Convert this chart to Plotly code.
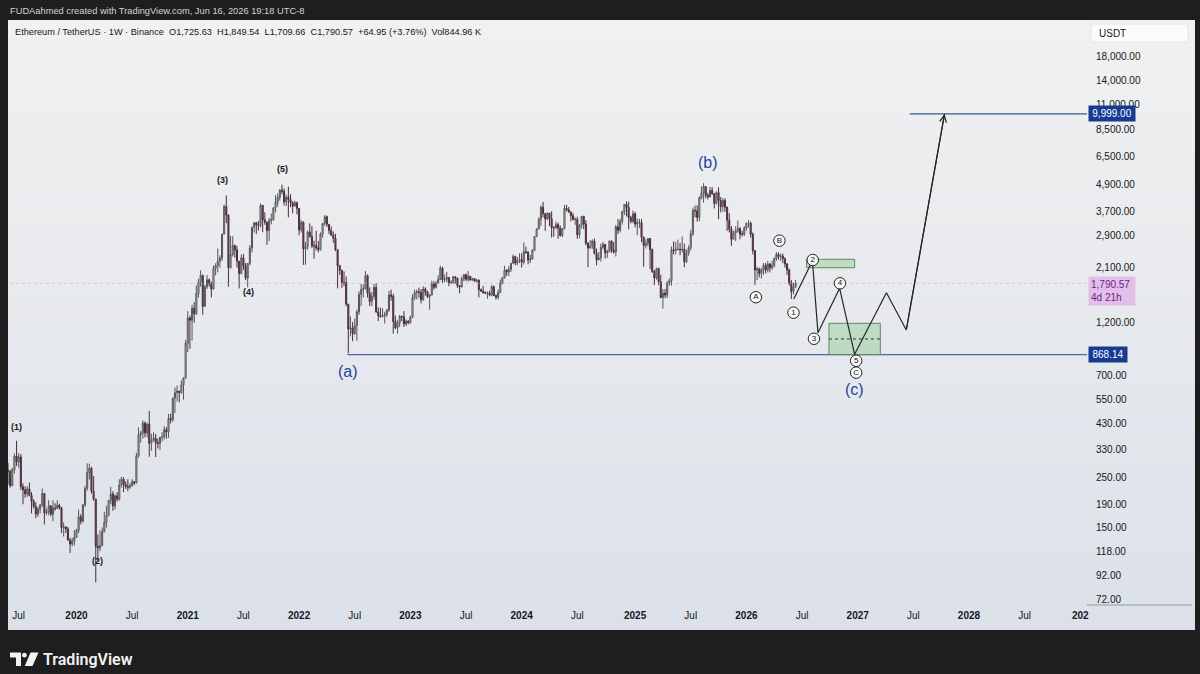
import math
import zlib
import struct
import base64
import pandas as pd
import plotly.graph_objects as go

# ---------------- weekly ETH/USDT candles (week starts Monday) ----------------
first_open = 188
closes = [
    # 2019 (from May 13)
    262,268,265,230,270,310,292,307,227,220,211,222,208,196,186,172,181,189,212,174,176,187,172,183,182,188,184,150,151,148,132,127,131,136,
    # 2020
    146,167,160,189,223,262,274,217,200,124,122,125,144,158,170,197,211,187,207,200,231,245,232,228,226,229,239,236,310,385,392,433,392,428,353,366,371,355,352,375,378,405,396,454,448,558,590,600,590,638,685,975,
    # 2021
    1260,1230,1390,1315,1615,1810,1935,1417,1730,1855,1780,1690,2080,2140,2240,2315,2950,3910,3580,2100,2400,2630,2510,2240,1980,2320,2140,1890,2190,2560,3160,3310,3240,3225,3950,3410,3330,3060,3390,3420,3850,4080,4290,4610,4560,4090,4290,4190,4060,3920,4060,3830,
    # 2022
    3080,3330,2540,2600,3010,2880,2620,2620,2570,2520,2950,3290,3520,3260,3060,2920,2830,2520,2140,2040,1810,1805,1450,1125,1140,1075,1165,1340,1600,1680,1700,1935,1620,1490,1570,1720,1340,1290,1275,1290,1305,1365,1590,1570,1215,1140,1200,1280,1275,1185,1220,1200,
    # 2023
    1265,1550,1630,1645,1630,1515,1690,1640,1565,1590,1780,1720,1795,1860,2090,1860,1870,1900,1800,1805,1910,1890,1750,1725,1875,1955,1865,1925,1850,1880,1830,1850,1680,1655,1630,1620,1625,1590,1730,1580,1555,1630,1790,1895,2045,2010,2065,2195,2350,2200,2265,2280,
    # 2024
    2220,2470,2455,2270,2290,2500,2880,3110,3430,3880,3640,3450,3650,3450,3150,3150,3250,3140,2910,3120,3830,3780,3690,3560,3420,3430,2930,3240,3530,3270,2690,2560,2610,2750,2430,2270,2320,2580,2660,2440,2470,2750,2510,2460,3180,3070,3360,3700,3990,3870,3490,3360,3630,
    # 2025
    3270,3310,3320,2860,2630,2690,2820,2520,2020,1890,2080,1820,1550,1620,1590,1790,1840,2520,2500,2530,2530,2520,2530,2230,2430,2570,2960,3760,3740,3500,4260,4480,4780,4370,4300,4600,4450,4030,4500,4150,3900,4150,3880,3400,3100,2800,2990,3050,3120,2950,2950,3140,
    # 2026
    3300,3300,2950,2500,2050,2070,1980,2050,2150,2050,2180,2100,2150,2300,2400,2350,2360,2300,2180,2050,1800,1650,1725.63,1790.57,
]
highs = [
    283,272,289,270,275,318,362,320,316,235,228,228,237,215,200,194,185,190,223,213,182,198,188,198,192,198,191,185,158,152,151,135,135,146,
    148,180,172,190,229,288,287,278,253,201,140,146,150,176,187,199,227,217,210,215,245,251,250,240,245,235,245,240,320,415,400,445,440,435,490,389,395,388,370,376,395,420,416,476,476,561,622,635,600,668,690,1010,
    1350,1290,1440,1480,1750,1875,2040,1960,1760,1945,1880,1820,2150,2195,2550,2380,2960,3980,4372,3600,2900,2890,2650,2620,2250,2400,2410,2200,2200,2640,3180,3330,3340,3370,4030,3970,3680,3350,3480,3640,3880,4380,4460,4660,4870,4700,4400,4780,4420,4120,4140,4100,
    3840,3410,3360,2730,3060,3290,3200,2760,3050,2750,3000,3300,3580,3560,3260,3190,3030,2960,2520,2160,2060,2020,1920,1450,1280,1210,1250,1370,1650,1780,1770,2030,1960,1720,1640,1780,1790,1400,1400,1390,1340,1380,1660,1680,1610,1290,1230,1300,1290,1350,1240,1230,
    1290,1600,1680,1680,1715,1690,1740,1720,1660,1600,1840,1830,1830,1940,2140,2120,1960,2010,1910,1850,1930,1930,1890,1760,1920,1960,1975,2030,1930,1885,1880,1870,1860,1700,1745,1650,1650,1660,1760,1750,1600,1680,1860,1910,2140,2070,2130,2200,2400,2370,2340,2430,
    2430,2715,2600,2480,2390,2530,2890,3130,3500,3950,4090,3640,3680,3660,3720,3200,3350,3320,3220,3140,3970,3970,3890,3720,3660,3500,3520,3250,3540,3560,3400,2720,2780,2800,2820,2550,2460,2680,2730,2670,2520,2760,2770,2720,3240,3440,3450,3740,4000,4110,4100,3550,3750,
    3700,3450,3450,3440,2880,2800,2840,2830,2550,2050,2100,2100,1950,1690,1690,1830,1880,2600,2740,2730,2790,2700,2880,2680,2520,2630,3080,3860,3940,3950,4330,4790,4950,4800,4490,4770,4760,4460,4560,4750,4300,4250,4250,3900,3650,3200,3050,3200,3390,3170,3050,3200,
    3310,3400,3350,3000,2500,2120,2100,2090,2200,2200,2250,2200,2250,2330,2460,2450,2420,2420,2330,2200,2080,1850,1800,1849.54,
]
lows = [
    185,236,232,225,228,260,280,275,220,190,203,205,206,173,182,165,167,173,185,155,170,170,168,160,178,181,180,142,137,142,132,116,124,125,
    135,142,155,158,185,218,244,212,197,86,106,118,124,143,150,168,190,178,180,195,197,225,215,222,217,222,228,231,235,305,355,370,375,375,308,327,359,307,335,330,360,367,370,373,432,440,480,540,535,585,550,680,
    890,920,1000,1200,1300,1550,1730,1300,1410,1690,1730,1550,1680,1940,2000,2100,2250,2950,3300,1730,2080,2350,2320,2100,1700,1960,2050,1850,1718,2150,2450,3000,2950,3060,3160,3010,3240,2650,2750,3260,3380,3680,3900,4150,4420,3940,3920,3500,3880,3640,3900,3600,
    2920,3000,2160,2160,2520,2850,2560,2300,2500,2450,2500,2850,3210,3170,2950,2900,2700,2480,1700,1950,1710,1740,1420,880,1045,995,1060,1000,1300,1420,1550,1680,1550,1420,1420,1520,1330,1220,1270,1270,1190,1270,1340,1500,1075,1125,1075,1150,1220,1150,1160,1180,
    1190,1260,1510,1520,1545,1460,1500,1580,1540,1370,1580,1680,1700,1780,1850,1800,1810,1810,1740,1780,1780,1780,1710,1620,1720,1830,1830,1820,1840,1840,1815,1800,1550,1640,1610,1605,1530,1570,1570,1575,1520,1520,1620,1770,1880,1930,1930,2010,2190,2150,2150,2200,
    2100,2170,2420,2170,2200,2280,2480,2860,3100,3200,3500,3050,3400,3200,2850,2870,3100,2810,2880,2860,3100,3720,3660,3360,3400,3240,2810,2830,3130,3100,2630,2110,2550,2540,2400,2150,2270,2230,2530,2300,2320,2450,2440,2420,2350,2950,3000,3250,3580,3530,3100,3290,3300,
    3160,2920,3140,2720,2120,2550,2600,2070,1990,1760,1860,1760,1540,1385,1540,1540,1750,1750,2400,2400,2500,2380,2450,2110,2200,2370,2500,2900,3500,3350,3360,4200,4060,4250,4200,4300,4400,3830,3980,3435,3680,3700,3700,3050,3000,2620,2800,2750,3000,2800,2880,2900,
    3050,3150,2850,2400,1760,1850,1900,1880,1950,1980,2000,2000,2050,2100,2250,2280,2250,2200,2100,1950,1750,1527,1600,1709.66,
]
opens = [first_open] + closes[:-1]
last_week = "2026-06-15"

# ---------------- drawings ----------------
path_dates = ["2026-06-09", "2026-08-09", "2026-08-27", "2026-11-06", "2026-12-25", "2027-04-08", "2027-06-12", "2027-10-15"]
path_prices = [1527, 2252, 1085, 1703, 871, 1628, 1115, 9999]

box1_dates = ["2026-07-21", "2026-12-25"]
box1_prices = [2098, 2285]
box2_dates = ["2026-10-02", "2027-03-19"]
box2_prices = [868.14, 1193]

support_level = 868.14
support_start = "2022-06-10"
target_level = 9999.0
target_start = "2027-06-23"
last_price = 1790.57

wave_labels = ["(1)", "(2)", "(3)", "(4)", "(5)"]
wave_dates = ["2019-06-25", "2020-03-16", "2021-04-26", "2021-07-20", "2021-11-11"]
wave_prices = [416, 106.8, 5112, 1639, 5717]

big_labels = ["(a)", "(b)", "(c)"]
big_dates = ["2022-06-12", "2025-09-03", "2026-12-24"]
big_prices = [728, 6136, 611]

circ_labels = ["A", "B", "1", "2", "3", "4", "5", "C"]
circ_dates = ["2026-02-05", "2026-04-23", "2026-06-08", "2026-08-10", "2026-08-14", "2026-11-07", "2026-12-30", "2026-12-30"]
circ_prices = [1555, 2760, 1329, 2269, 1020, 1791, 816, 723]

y_ticks = [72, 92, 118, 150, 190, 250, 330, 430, 550, 700, 1200, 2100, 2900, 3700, 4900, 6500, 8500, 11000, 14000, 18000]
x_tick_dates = ["2019-07-01", "2020-01-06", "2020-07-06", "2021-01-04", "2021-07-05", "2022-01-03", "2022-07-04",
                "2023-01-02", "2023-07-03", "2024-01-01", "2024-07-01", "2025-01-06", "2025-07-07", "2026-01-05",
                "2026-07-06", "2027-01-04", "2027-07-05", "2028-01-03", "2028-07-03", "2029-01-01"]
x_tick_text = ["Jul", "<b>2020</b>", "Jul", "<b>2021</b>", "Jul", "<b>2022</b>", "Jul", "<b>2023</b>", "Jul",
               "<b>2024</b>", "Jul", "<b>2025</b>", "Jul", "<b>2026</b>", "Jul", "<b>2027</b>", "Jul",
               "<b>2028</b>", "Jul", "<b>202</b>"]

x_range = ["2019-05-27", "2029-01-23"]
y_range = [1.8347, 4.4140]

# ---------------- layout helpers (pixel -> paper) ----------------
L, R, T, B = 8, 1087, 20, 605
def PX(x):
    return (x - L) / (R - L)
def PY(y):
    return (B - y) / (B - T)

FONT = "Liberation Sans, Arial, sans-serif"
dates = pd.date_range(end=last_week, periods=len(closes), freq="7D")


def gradient_png(h, top, bot):
    raw = b""
    for i in range(h):
        f = i / (h - 1)
        c = bytes(round(top[k] + (bot[k] - top[k]) * f) for k in range(3))
        raw += b"\x00" + c * 2

    def chunk(tag, data):
        return struct.pack(">I", len(data)) + tag + data + struct.pack(">I", zlib.crc32(tag + data) & 0xFFFFFFFF)

    png = (b"\x89PNG\r\n\x1a\n" + chunk(b"IHDR", struct.pack(">IIBBBBB", 2, h, 8, 2, 0, 0, 0))
           + chunk(b"IDAT", zlib.compress(raw)) + chunk(b"IEND", b""))
    return "data:image/png;base64," + base64.b64encode(png).decode()


fig = go.Figure()

# last price faint line
fig.add_trace(go.Scatter(x=[dates[0], x_range[1]], y=[last_price, last_price], mode="lines",
                         line=dict(color="rgba(190,150,205,0.45)", width=1, dash="dot"), hoverinfo="skip"))

fig.add_trace(go.Candlestick(
    x=dates, open=opens, high=highs, low=lows, close=closes,
    increasing=dict(line=dict(color="#555555", width=1), fillcolor="#d6d6d6"),
    decreasing=dict(line=dict(color="#4a2c3c", width=1), fillcolor="#7a4a60"),
    whiskerwidth=0, hoverinfo="skip"))

# support and target lines
fig.add_trace(go.Scatter(x=[support_start, x_range[1]], y=[support_level, support_level], mode="lines",
                         line=dict(color="#4d69a8", width=1.4), hoverinfo="skip"))
fig.add_trace(go.Scatter(x=[target_start, x_range[1]], y=[target_level, target_level], mode="lines",
                         line=dict(color="#3b5698", width=1.1), hoverinfo="skip"))

# boxes
for bd, bp in ((box1_dates, box1_prices), (box2_dates, box2_prices)):
    fig.add_trace(go.Scatter(x=[bd[0], bd[1], bd[1], bd[0], bd[0]], y=[bp[0], bp[0], bp[1], bp[1], bp[0]],
                             mode="lines", fill="toself", fillcolor="rgba(110,190,110,0.33)",
                             line=dict(color="#5f8a62", width=1), hoverinfo="skip"))
mid2 = math.sqrt(box2_prices[0] * box2_prices[1])
fig.add_trace(go.Scatter(x=box2_dates, y=[mid2, mid2], mode="lines",
                         line=dict(color="#333333", width=1, dash="3px,3px"), hoverinfo="skip"))

# projected path
fig.add_trace(go.Scatter(x=path_dates, y=path_prices, mode="lines",
                         line=dict(color="#262626", width=1.2), hoverinfo="skip"))

# circled labels
fig.add_trace(go.Scatter(x=circ_dates, y=circ_prices, mode="markers+text", text=circ_labels,
                         textposition="middle center",
                         textfont=dict(family=FONT, size=8, color="#111111"),
                         marker=dict(size=11.5, color="rgba(250,250,250,0.95)", line=dict(color="#222222", width=1)),
                         hoverinfo="skip"))

annotations = []
annotations.append(dict(x=path_dates[-1], y=math.log10(path_prices[-1]), ax=path_dates[-2], ay=math.log10(path_prices[-2]),
                        xref="x", yref="y", axref="x", ayref="y", text="", showarrow=True,
                        arrowhead=5, arrowsize=1.1, arrowwidth=1.2, arrowcolor="#262626", standoff=0))
for t, d, p in zip(wave_labels, wave_dates, wave_prices):
    annotations.append(dict(x=d, y=math.log10(p), xref="x", yref="y", text=f"<b>{t}</b>", showarrow=False,
                            font=dict(family=FONT, size=9, color="#1a1a1a")))
for t, d, p in zip(big_labels, big_dates, big_prices):
    annotations.append(dict(x=d, y=math.log10(p), xref="x", yref="y", text=t, showarrow=False,
                            font=dict(family=FONT, size=16, color="#2444a0")))

annotations.append(dict(x=PX(8), y=PY(11), xref="paper", yref="paper", xanchor="left", yanchor="middle",
                        text="FUDAahmed created with TradingView.com, Jun 16, 2026 19:18 UTC-8", showarrow=False,
                        font=dict(family=FONT, size=9.3, color="#d4d4d4")))
annotations.append(dict(x=PX(13), y=PY(32), xref="paper", yref="paper", xanchor="left", yanchor="middle",
                        text="Ethereum / TetherUS · 1W · Binance  O1,725.63  H1,849.54  L1,709.66  C1,790.57  +64.95 (+3.76%)  Vol844.96 K",
                        showarrow=False, font=dict(family=FONT, size=9.2, color="#131722")))
annotations.append(dict(x=PX(1088), y=math.log10(target_level), xref="paper", yref="y", xanchor="left", yanchor="middle",
                        text="9,999.00", showarrow=False, bgcolor="#173b92", borderpad=2, width=42,
                        font=dict(family=FONT, size=10, color="#ffffff")))
annotations.append(dict(x=PX(1088), y=math.log10(support_level), xref="paper", yref="y", xanchor="left", yanchor="middle",
                        text="868.14", showarrow=False, bgcolor="#173b92", borderpad=2, width=34,
                        font=dict(family=FONT, size=10, color="#ffffff")))
annotations.append(dict(x=PX(1088), y=PY(276), xref="paper", yref="paper", xanchor="left", yanchor="top",
                        text="1,790.57<br>4d 21h", showarrow=False, bgcolor="#e2bfe8", borderpad=2, align="left",
                        width=42, font=dict(family=FONT, size=10, color="#6e2283")))
annotations.append(dict(x=PX(1097), y=PY(33), xref="paper", yref="paper", xanchor="left", yanchor="middle",
                        text="USDT", showarrow=False, font=dict(family=FONT, size=10, color="#131722")))
annotations.append(dict(x=PX(41), y=PY(659), xref="paper", yref="paper", xanchor="left", yanchor="middle",
                        text="TradingView", showarrow=False,
                        font=dict(family="Roboto, " + FONT, size=16, color="#f2f2f2", weight=600)))

shapes = []
shapes.append(dict(type="rect", xref="paper", yref="paper", x0=PX(1091), x1=PX(1188), y0=PY(42), y1=PY(24),
                   fillcolor="#fbfbfb", line=dict(color="#e4e4e4", width=1), layer="below"))
shapes.append(dict(type="line", xref="paper", yref="paper", x0=PX(1087), x1=PX(1192), y0=PY(605), y1=PY(605),
                   line=dict(color="#9097a0", width=1)))


def path(pts):
    return "M " + " L ".join("%.5f,%.5f" % (PX(a), PY(b)) for a, b in pts) + " Z"


shapes.append(dict(type="path", xref="paper", yref="paper",
                   path=path([(10, 652.5), (21, 652.5), (21, 666), (16, 666), (16, 657.5), (10, 657.5)]),
                   fillcolor="#f2f2f2", line=dict(width=0)))
shapes.append(dict(type="circle", xref="paper", yref="paper", x0=PX(22), x1=PX(26.8), y0=PY(657.6), y1=PY(652.8),
                   fillcolor="#f2f2f2", line=dict(width=0)))
shapes.append(dict(type="path", xref="paper", yref="paper",
                   path=path([(30.5, 652.5), (38.5, 652.5), (32.5, 666), (24.8, 666)]),
                   fillcolor="#f2f2f2", line=dict(width=0)))

images = [dict(source=gradient_png(128, (241, 241, 241), (220, 225, 233)), xref="paper", yref="paper",
               x=PX(8), y=PY(20), sizex=PX(1195) - PX(8), sizey=PY(20) - PY(630),
               xanchor="left", yanchor="top", sizing="stretch", layer="below")]

fig.update_layout(
    width=1200, height=674,
    margin=dict(l=L, r=1200 - R, t=T, b=674 - B),
    paper_bgcolor="#1e1e1e", plot_bgcolor="rgba(0,0,0,0)",
    showlegend=False, font=dict(family=FONT, size=10, color="#131722"),
    annotations=annotations, shapes=shapes, images=images,
    xaxis=dict(type="date", range=x_range, tickvals=x_tick_dates, ticktext=x_tick_text,
               showgrid=False, zeroline=False, showline=False, ticks="",
               tickfont=dict(family=FONT, size=10, color="#131722"), ticklabelstandoff=3,
               rangeslider=dict(visible=False), fixedrange=True),
    yaxis=dict(type="log", range=y_range, side="right", tickvals=y_ticks,
               ticktext=[f"{v:,.2f}" for v in y_ticks], showgrid=False, zeroline=False, showline=False,
               ticks="", tickfont=dict(family=FONT, size=10, color="#131722"), ticklabelstandoff=8,
               fixedrange=True),
)

fig.write_html("out.html", config={"displayModeBar": False},
               post_script="document.body.style.margin='0';")
